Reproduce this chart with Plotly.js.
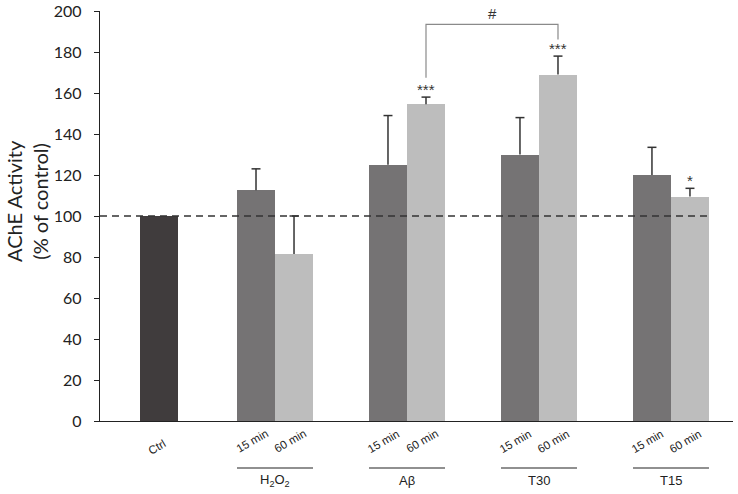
<!DOCTYPE html>
<html>
<head>
<meta charset="utf-8">
<script src="https://cdn.plot.ly/plotly-3.0.1.min.js"></script>
<style>html,body{margin:0;padding:0;background:#fff;}#chart{width:738px;height:494px;}</style>
</head>
<body>
<div id="chart"></div>
<script>
// ---- data ----
const groups = ["H<sub>2</sub>O<sub>2</sub>", "Aβ", "T30", "T15"];
const ctrlLabel = "Ctrl";
const ctrlValue = 100;
const ctrlErr = 0;
const times = ["15 min", "60 min"];
const values15 = [112.5, 125, 130, 120];
const errors15 = [10.5, 24, 18, 13.5];
const values60 = [81.5, 154.5, 169, 109.5];
const errors60 = [18.5, 3.5, 9, 4];
const sig60 = ["", "***", "***", "*"];
const yTicks = [0, 20, 40, 60, 80, 100, 120, 140, 160, 180, 200];

// ---- layout helpers ----
const groupPos = groups.map((g, i) => i + 1);
const ctrlPos = 0.12;
const barW = 0.288;
const capHalf = 0.034;
const pos15 = groupPos.map(p => p - barW / 2);
const pos60 = groupPos.map(p => p + barW / 2);

const traces = [
  {type: 'bar', x: [ctrlPos], y: [ctrlValue], width: barW, marker: {color: '#403c3d'}, showlegend: false, hoverinfo: 'skip'},
  {type: 'bar', x: pos15, y: values15, width: barW, marker: {color: '#757374'}, showlegend: false, hoverinfo: 'skip'},
  {type: 'bar', x: pos60, y: values60, width: barW, marker: {color: '#bdbdbd'}, showlegend: false, hoverinfo: 'skip'}
];

const annotations = [];
const shapes = [];

// upper-only error bars
function addErr(x, v, e) {
  if (!e) return;
  const ln = {color: '#333333', width: 1.5};
  shapes.push({type: 'line', xref: 'x', yref: 'y', x0: x, x1: x, y0: v, y1: v + e, line: ln});
  shapes.push({type: 'line', xref: 'x', yref: 'y', x0: x - capHalf, x1: x + capHalf, y0: v + e, y1: v + e, line: ln});
}
addErr(ctrlPos, ctrlValue, ctrlErr);
groups.forEach((g, i) => {
  addErr(pos15[i], values15[i], errors15[i]);
  addErr(pos60[i], values60[i], errors60[i]);
});

const labFont = {family: 'Liberation Sans, Arial, sans-serif', size: 11.5, color: '#222'};
annotations.push({x: ctrlPos, y: 0, xref: 'x', yref: 'paper', text: ctrlLabel, showarrow: false, textangle: -30, xanchor: 'center', yanchor: 'middle', xshift: -2, yshift: -26, font: labFont});
groups.forEach((g, i) => {
  [pos15[i], pos60[i]].forEach((p, j) => {
    annotations.push({x: p, y: 0, xref: 'x', yref: 'paper', text: times[j], showarrow: false, textangle: -30, xanchor: 'center', yanchor: 'middle', xshift: -4, yshift: -20, font: labFont});
  });
  shapes.push({type: 'line', xref: 'x', yref: 'paper', x0: pos15[i] - barW / 2, x1: pos60[i] + barW / 2, y0: -47 / 410, y1: -47 / 410, line: {color: '#222', width: 1.2}});
  annotations.push({x: groupPos[i], y: -60 / 410, xref: 'x', yref: 'paper', text: g, showarrow: false, xanchor: 'center', yanchor: 'middle', font: {family: 'Liberation Sans, Arial, sans-serif', size: 13, color: '#222'}});
  if (sig60[i]) {
    annotations.push({x: pos60[i], y: values60[i] + errors60[i], xref: 'x', yref: 'y', text: sig60[i], showarrow: false, xanchor: 'center', yanchor: 'middle', yshift: 8, font: {family: 'Liberation Sans, Arial, sans-serif', size: 15, color: '#333'}});
  }
});

// bracket between Aβ 60 and T30 60
const bTop = 193.5;
const bl = 1, br = 2;
shapes.push({type: 'path', xref: 'x', yref: 'y',
  path: `M ${pos60[bl]} ${values60[bl] + errors60[bl] + 9.4} L ${pos60[bl]} ${bTop} L ${pos60[br]} ${bTop} L ${pos60[br]} ${values60[br] + errors60[br] + 8.1}`,
  line: {color: '#8a8a8a', width: 1.2}});
annotations.push({x: (pos60[bl] + pos60[br]) / 2, y: bTop, xref: 'x', yref: 'y', text: '#', showarrow: false, xanchor: 'center', yanchor: 'bottom', yshift: 0, font: {family: 'Liberation Sans, Arial, sans-serif', size: 15, color: '#333'}});

// dashed reference at 100
shapes.push({type: 'line', xref: 'paper', yref: 'y', x0: 0, x1: 0.966, y0: 100, y1: 100, line: {color: '#333', width: 1.5, dash: '7px,5px'}});

// y-axis title
annotations.push({x: 0, y: (421 - 201) / 410, xref: 'paper', yref: 'paper', xanchor: 'center', yanchor: 'middle', xshift: -73, showarrow: false, textangle: -90,
  text: 'AChE Activity<br>(% of control)', font: {family: 'Lato, Open Sans, sans-serif', size: 20, color: '#222'}});

const layout = {
  width: 738, height: 494,
  margin: {l: 100, r: 5, t: 11, b: 73},
  paper_bgcolor: '#fff', plot_bgcolor: '#fff',
  xaxis: {range: [-0.326, 4.47], showgrid: false, zeroline: false, showticklabels: false, ticks: '', showline: true, linecolor: '#222', linewidth: 1.2, fixedrange: true},
  yaxis: {range: [0, 200], tickvals: yTicks, showgrid: false, zeroline: false, showline: true, linecolor: '#222', linewidth: 1.2,
    ticks: 'outside', ticklen: 5, tickcolor: '#222', ticklabelstandoff: 9,
    tickfont: {family: 'Lato, Open Sans, sans-serif', size: 16, color: '#222'}},
  annotations: annotations,
  shapes: shapes,
  bargap: 0
};

Plotly.newPlot('chart', traces, layout, {displayModeBar: false, staticPlot: true});
</script>
</body>
</html>
